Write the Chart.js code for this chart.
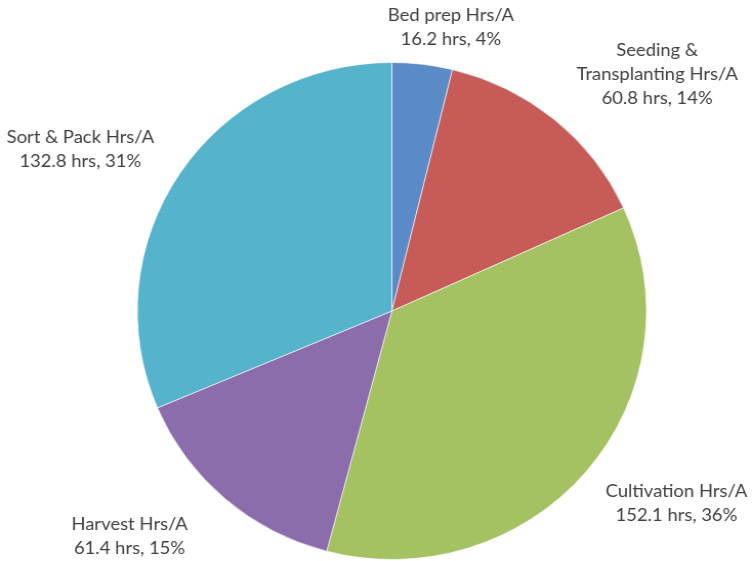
<!DOCTYPE html>
<html>
<head>
<meta charset="utf-8">
<script src="https://cdn.jsdelivr.net/npm/chart.js@4"></script>
<style>
    html, body { margin: 0; padding: 0; background: #ffffff; overflow: hidden; }
    #pieChart { display: block; }
</style>
</head>
<body>
<canvas id="pieChart" width="734" height="561"></canvas>
<script>
// Data
const categories = ["Bed prep Hrs/A", "Seeding &\nTransplanting Hrs/A", "Cultivation Hrs/A", "Harvest Hrs/A", "Sort & Pack Hrs/A"];
const hours = [16.2, 60.8, 152.1, 61.4, 132.8];
const sliceColors = ["#5b8bc7", "#c65b58", "#a5c263", "#8a6daa", "#55b3cb"];

// Label placement: angle shift (deg) from slice middle and distance beyond the pie edge
const labelShift = [4.6, 7.9, -5.5, 7.7, -5.5];
const labelGap = [40.8, 102.5, 89.2, 92.6, 96];

const pieLabels = {
    id: "pieLabels",
    afterDatasetsDraw(chart) {
        const ctx = chart.ctx;
        const meta = chart.getDatasetMeta(0);
        const total = hours.reduce((a, b) => a + b, 0);
        ctx.save();
        ctx.font = "18px Lato, 'Open Sans', sans-serif";
        ctx.fillStyle = "#404040";
        ctx.textAlign = "center";
        ctx.textBaseline = "middle";
        meta.data.forEach((arc, i) => {
            const mid = (arc.startAngle + arc.endAngle) / 2 + labelShift[i] * Math.PI / 180;
            const r = arc.outerRadius + labelGap[i];
            const x = arc.x + Math.cos(mid) * r;
            const y = arc.y + Math.sin(mid) * r;
            const pct = Math.round(hours[i] / total * 100);
            const lines = categories[i].split("\n").concat([hours[i].toFixed(1) + " hrs, " + pct + "%"]);
            const top = y - (lines.length - 1) * 24 / 2;
            lines.forEach((line, j) => ctx.fillText(line, x, top + j * 24));
        });
        ctx.restore();
    }
};

const canvas = document.getElementById("pieChart");
new Chart(canvas, {
    type: "pie",
    data: {
        labels: categories,
        datasets: [{
            data: hours,
            backgroundColor: sliceColors,
            borderColor: "rgba(255,255,255,0.6)",
            borderWidth: 1
        }]
    },
    options: {
        responsive: false,
        animation: false,
        layout: { padding: { top: 62, bottom: 1, left: 31, right: 0 } },
        plugins: {
            legend: { display: false },
            tooltip: { enabled: false }
        }
    },
    plugins: [pieLabels]
});

// the original picture is slightly wider than tall
canvas.style.width = "752px";
canvas.style.height = "561px";
</script>
</body>
</html>
